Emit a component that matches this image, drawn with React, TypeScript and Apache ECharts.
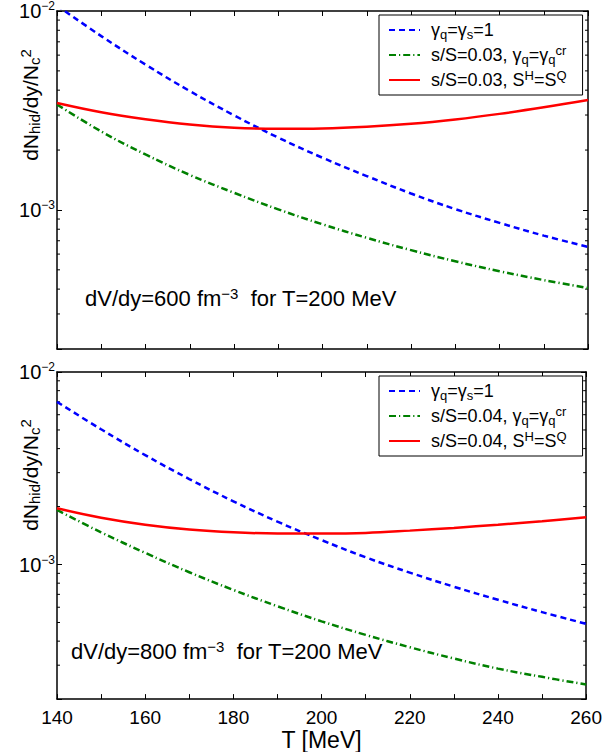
import React, { useEffect, useRef } from 'react';
import * as echarts from 'echarts';

// Temperature grid (MeV)
const temperature = [140, 150, 160, 170, 180, 190, 200, 210, 220, 230, 240, 250, 260];

// Upper panel: dV/dy = 600 fm^-3
const upperGammaOne = [1.064e-2, 7.48e-3, 5.38e-3, 3.96e-3, 2.99e-3, 2.31e-3, 1.83e-3, 1.48e-3, 1.21e-3, 1.01e-3, 8.61e-4, 7.43e-4, 6.52e-4];
const upperGammaCr = [3.39e-3, 2.48e-3, 1.9e-3, 1.5e-3, 1.22e-3, 1.007e-3, 8.47e-4, 7.24e-4, 6.28e-4, 5.52e-4, 4.92e-4, 4.44e-4, 4.05e-4];
const upperEntropy = [3.45e-3, 3.1e-3, 2.86e-3, 2.69e-3, 2.59e-3, 2.56e-3, 2.57e-3, 2.62e-3, 2.71e-3, 2.85e-3, 3.04e-3, 3.28e-3, 3.57e-3];

// Lower panel: dV/dy = 800 fm^-3
const lowerGammaOne = [7.0e-3, 5.04e-3, 3.7e-3, 2.78e-3, 2.13e-3, 1.67e-3, 1.34e-3, 1.09e-3, 9.08e-4, 7.67e-4, 6.56e-4, 5.66e-4, 4.92e-4];
const lowerGammaCr = [1.92e-3, 1.47e-3, 1.15e-3, 9.12e-4, 7.38e-4, 6.07e-4, 5.07e-4, 4.31e-4, 3.72e-4, 3.25e-4, 2.88e-4, 2.61e-4, 2.38e-4];
const lowerEntropy = [1.96e-3, 1.75e-3, 1.61e-3, 1.52e-3, 1.47e-3, 1.45e-3, 1.45e-3, 1.46e-3, 1.5e-3, 1.55e-3, 1.61e-3, 1.68e-3, 1.76e-3];

// Axis ranges and minor log ticks
const tMin = 140;
const tMax = 260;
const tStep = 10;
const yMin = 2e-4;
const yMax = 1e-2;
const minorTicks = [3e-4, 4e-4, 5e-4, 6e-4, 7e-4, 8e-4, 9e-4, 2e-3, 3e-3, 4e-3, 5e-3, 6e-3, 7e-3, 8e-3, 9e-3];

// Legend entries (series names) and their rendered rich text
const nameGamma = 'γq=γs=1';
const nameCrUpper = 's/S=0.03, γq=γq^cr';
const nameSqUpper = 's/S=0.03, S^H=S^Q';
const nameCrLower = 's/S=0.04, γq=γq^cr';
const nameSqLower = 's/S=0.04, S^H=S^Q';

const legendRich: Record<string, string> = {
  [nameGamma]: '{n|γ}{sb|q}{n|=γ}{sb|s}{n|=1}',
  [nameCrUpper]: '{n|s/S=0.03, γ}{sb|q}{n|=γ}{sb|q}{sp|cr}',
  [nameSqUpper]: '{n|s/S=0.03, S}{sp|H}{n|=S}{sp|Q}',
  [nameCrLower]: '{n|s/S=0.04, γ}{sb|q}{n|=γ}{sb|q}{sp|cr}',
  [nameSqLower]: '{n|s/S=0.04, S}{sp|H}{n|=S}{sp|Q}',
};

const FONT = '"Liberation Sans", Arial, Helvetica, sans-serif';
const BLUE = '#0000ff';
const GREEN = '#008000';
const RED = '#ff0000';

const richStyles = (size: number, lh: number, small = 0.72) => ({
  n: { fontSize: size, lineHeight: lh, fontFamily: FONT, color: '#000' },
  sb: { fontSize: Math.round(size * small), lineHeight: 8, verticalAlign: 'bottom', fontFamily: FONT, color: '#000' },
  sp: { fontSize: Math.round(size * small), lineHeight: 8, verticalAlign: 'top', fontFamily: FONT, color: '#000' },
});

const powerLabel = (v: number) => {
  const l = Math.log10(v);
  const e = Math.round(l);
  if (Math.abs(l - e) > 1e-6) return '';
  return `{n|10}{sp|−${Math.abs(e)}}`;
};

const toPairs = (ys: number[]) => temperature.map((t, i) => [t, ys[i]]);

const lineSeries = (name: string, ys: number[], panel: number, kind: 'dash' | 'dashdot' | 'solid') => {
  const color = kind === 'dash' ? BLUE : kind === 'dashdot' ? GREEN : RED;
  return {
    type: 'line',
    name,
    xAxisIndex: panel * 2,
    yAxisIndex: panel * 2,
    data: toPairs(ys),
    smooth: 0.4,
    symbol: 'none',
    clip: true,
    z: kind === 'solid' ? 3 : 2,
    lineStyle: {
      width: 2.5,
      color,
      type: kind === 'dash' ? [6, 4] : kind === 'dashdot' ? [7, 3, 1.2, 3] : 'solid',
    },
    itemStyle: { color },
  };
};

const minorTickSeries = (panel: number) => ({
  type: 'custom',
  silent: true,
  xAxisIndex: panel * 2,
  yAxisIndex: panel * 2,
  data: minorTicks.map((v) => [tMin, v]),
  encode: { x: 0, y: 1 },
  renderItem: (_params: any, api: any) => {
    const v = api.value(1);
    const l = api.coord([tMin, v]);
    const r = api.coord([tMax, v]);
    const st = { stroke: '#000', lineWidth: 1 };
    return {
      type: 'group',
      children: [
        { type: 'line', shape: { x1: l[0], y1: l[1], x2: l[0] + 3, y2: l[1] }, style: st },
        { type: 'line', shape: { x1: r[0] - 3, y1: r[1], x2: r[0], y2: r[1] }, style: st },
      ],
    };
  },
});

const axisLine = { show: true, onZero: false, lineStyle: { color: '#000', width: 1.5 } };
const axisTick = { show: true, inside: true, length: 5, lineStyle: { color: '#000', width: 1 } };

const xAxes = (panel: number, labels: boolean) => [
  {
    type: 'value',
    gridIndex: panel,
    position: 'bottom',
    min: tMin,
    max: tMax,
    interval: tStep,
    axisLine,
    axisTick,
    splitLine: { show: false },
    axisLabel: {
      show: labels,
      interval: 1,
      margin: 9,
      fontSize: 19,
      fontFamily: FONT,
      color: '#000',
      formatter: (v: number) => (v % 20 === 0 ? String(v) : ''),
    },
    name: labels ? 'T [MeV]' : '',
    nameLocation: 'middle',
    nameGap: 27,
    nameTextStyle: { fontSize: 23, fontFamily: FONT, color: '#000' },
  },
  {
    type: 'value',
    gridIndex: panel,
    position: 'top',
    min: tMin,
    max: tMax,
    interval: tStep,
    axisLine,
    axisTick,
    splitLine: { show: false },
    axisLabel: { show: false },
  },
];

const yAxes = (panel: number) => [
  {
    type: 'log',
    logBase: 10,
    gridIndex: panel,
    position: 'left',
    min: yMin,
    max: yMax,
    axisLine,
    axisTick,
    splitLine: { show: false },
    minorTick: { show: false },
    axisLabel: {
      show: true,
      margin: 2,
      formatter: powerLabel,
      rich: richStyles(20, 22, 0.62),
    },
  },
  {
    type: 'log',
    logBase: 10,
    gridIndex: panel,
    position: 'right',
    min: yMin,
    max: yMax,
    axisLine,
    axisTick,
    splitLine: { show: false },
    axisLabel: { show: false },
  },
];

const legendFor = (names: string[], top: number) => ({
  data: names,
  orient: 'vertical',
  left: 379,
  top,
  itemWidth: 31,
  itemHeight: 14,
  itemGap: 3,
  padding: [6, 16, 6, 9],
  borderColor: '#000',
  borderWidth: 1,
  backgroundColor: '#fff',
  selectedMode: false,
  itemStyle: { color: 'rgba(0,0,0,0)', borderColor: 'rgba(0,0,0,0)', borderWidth: 0, opacity: 0 },
  formatter: (name: string) => legendRich[name] ?? name,
  textStyle: { fontFamily: FONT, fontSize: 18, color: '#000', padding: [0, 0, 0, 6], rich: richStyles(18, 22) },
});

const yTitle = (x: number, y: number) => ({
  type: 'text',
  x,
  y,
  rotation: Math.PI / 2,
  style: {
    text: '{n|dN}{sb|hid}{n|/dy/N}{sb|c}{sp|2}',
    align: 'center',
    verticalAlign: 'middle',
    rich: richStyles(21, 24),
  },
});

const note = (x: number, y: number, volume: number) => ({
  type: 'text',
  x,
  y,
  style: {
    text: `{n|dV/dy=${volume} fm}{sp|−3}{n|  for T=200 MeV}`,
    align: 'left',
    verticalAlign: 'middle',
    rich: richStyles(22, 24, 0.68),
  },
});

export default function App() {
  const ref = useRef<HTMLDivElement>(null);

  useEffect(() => {
    if (!ref.current) return;
    const chart = echarts.init(ref.current, undefined, { renderer: 'svg' });
    chart.setOption({
      animation: false,
      backgroundColor: '#fff',
      grid: [
        { left: 57, right: 17, top: 11, height: 338 },
        { left: 57, right: 17, top: 372, height: 330 },
      ],
      xAxis: [...xAxes(0, false), ...xAxes(1, true)],
      yAxis: [...yAxes(0), ...yAxes(1)],
      legend: [
        legendFor([nameGamma, nameCrUpper, nameSqUpper], 15),
        legendFor([nameGamma, nameCrLower, nameSqLower], 376),
      ],
      series: [
        lineSeries(nameGamma, upperGammaOne, 0, 'dash'),
        lineSeries(nameCrUpper, upperGammaCr, 0, 'dashdot'),
        lineSeries(nameSqUpper, upperEntropy, 0, 'solid'),
        lineSeries(nameGamma, lowerGammaOne, 1, 'dash'),
        lineSeries(nameCrLower, lowerGammaCr, 1, 'dashdot'),
        lineSeries(nameSqLower, lowerEntropy, 1, 'solid'),
        minorTickSeries(0),
        minorTickSeries(1),
      ],
      graphic: [yTitle(30, 105), yTitle(30, 475), note(85, 298, 600), note(71, 651, 800)],
    });
    return () => chart.dispose();
  }, []);

  return (
    <div
      ref={ref}
      style={{ position: 'absolute', left: 0, top: 0, width: 605, height: 752 }}
    />
  );
}
